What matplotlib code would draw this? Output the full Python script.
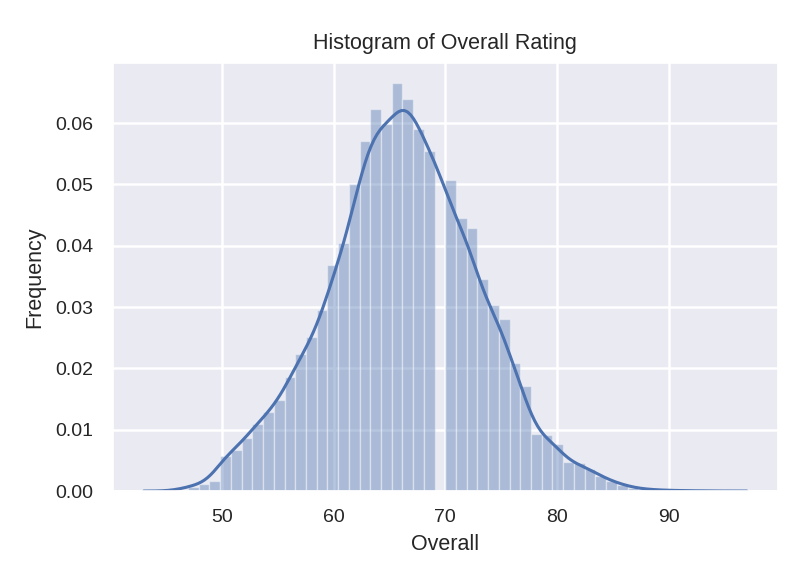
import numpy as np
import matplotlib
matplotlib.use('Agg')
import matplotlib.pyplot as plt
import seaborn as sns

# Overall rating values (integer) and their histogram density
ratings = list(range(46, 95))
density = [
    0.0002, 0.0007, 0.0012, 0.0016, 0.0057, 0.0067, 0.0086, 0.0110,   # 46-53
    0.0129, 0.0148, 0.0186, 0.0224, 0.0251, 0.0295, 0.0368, 0.0405,   # 54-61
    0.0501, 0.0571, 0.0623, 0.0598, 0.0665, 0.0639, 0.0590, 0.0555,   # 62-69
    0.0507, 0.0445, 0.0429, 0.0345, 0.0303, 0.0280, 0.0209, 0.0171,   # 70-77
    0.0093, 0.0092, 0.0076, 0.0047, 0.0045, 0.0036, 0.0024, 0.0016,   # 78-85
    0.0010, 0.0005, 0.0003, 0.0002, 0.0001, 0.0001, 0.00005, 0.00003, # 86-93
    0.00002,                                                         # 94
]
n_bins = 50

sns.set(style='darkgrid')
plt.rcParams['font.family'] = ['Liberation Sans', 'DejaVu Sans']

fig = plt.figure(figsize=(8.1, 5.71), dpi=100)
ax = fig.add_axes([0.1395, 0.140, 0.8205, 0.7497])

color = sns.color_palette('deep')[0]

# histogram, same bins as distplot (50 bins over the data range)
edges = np.linspace(min(ratings), max(ratings), n_bins + 1)
ax.hist(ratings, bins=edges, weights=density, color=color, alpha=0.4,
        edgecolor='white', linewidth=1.0)

# kde of the same data, cut 3 bandwidths past the data
sns.kdeplot(x=ratings, weights=density, bw_method=0.145,
            clip=(min(ratings) - 3, max(ratings) + 3), color=color,
            linewidth=2.2, ax=ax)

ax.set_xlim(40.24, 99.76)
ax.set_ylim(0, 0.0698)
ax.set_yticks([0.0, 0.01, 0.02, 0.03, 0.04, 0.05, 0.06])
ax.set_yticklabels(['0.00', '0.01', '0.02', '0.03', '0.04', '0.05', '0.06'])
ax.grid(True, color='white', linewidth=1.8)
ax.tick_params(labelsize=14, colors='#262626', length=0)
ax.tick_params(axis='x', pad=13)
ax.tick_params(axis='y', pad=14)

ax.set_title('Histogram of Overall Rating', fontsize=15.5, color='#262626', pad=10)
ax.set_xlabel('Overall', fontsize=15.5, color='#262626', labelpad=6)
ax.set_ylabel('Frequency', fontsize=15.5, color='#262626', labelpad=7)

fig.savefig('out.png', dpi=100, facecolor='white')
